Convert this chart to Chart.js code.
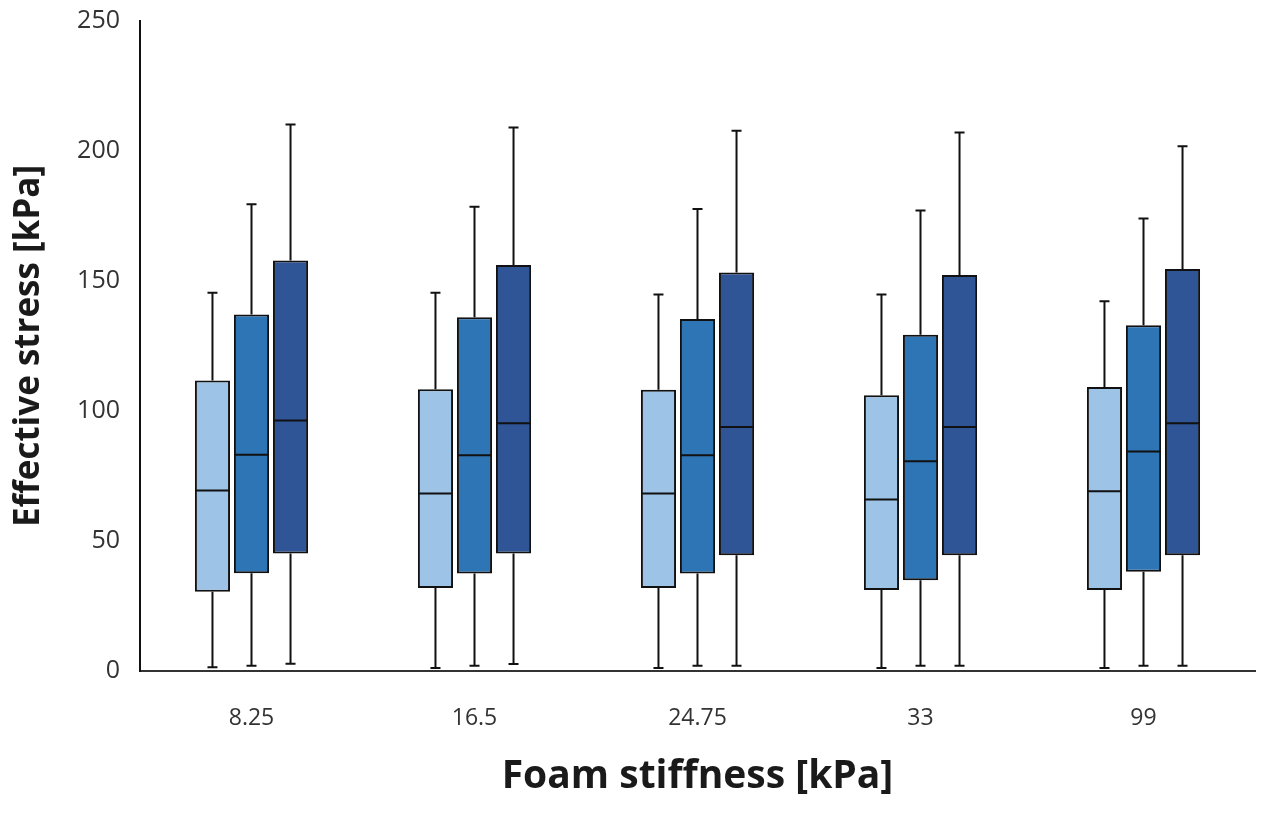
<!DOCTYPE html>
<html>
<head>
<meta charset="utf-8">
<script src="https://cdn.jsdelivr.net/npm/chart.js@4.4.0/dist/chart.umd.min.js"></script>
<style>
  html, body { margin: 0; padding: 0; background: #fff; }
</style>
</head>
<body>
<canvas id="myChart" width="1274" height="815"></canvas>
<script>
// categories (foam stiffness, kPa)
const categories = ['8.25', '16.5', '24.75', '33', '99'];
const seriesNames = ['Series 1', 'Series 2', 'Series 3'];
const seriesColors = ['#9DC3E6', '#2E75B6', '#2F5597'];

// box plot values, one row per series, one column per category
const minVals = [
    [1.4, 1.2, 1.2, 1.2, 1.2],
    [2.0, 2.0, 2.0, 2.0, 2.0],
    [2.8, 2.7, 2.0, 2.0, 2.0]
];
const q1Vals = [
    [30.5, 31.9, 31.9, 31.2, 31.2],
    [37.6, 37.5, 37.5, 34.9, 38.2],
    [45.2, 45.2, 44.5, 44.5, 44.5]
];
const medianVals = [
    [69.4, 68.3, 68.3, 66.0, 69.1],
    [83.2, 83.0, 83.0, 80.7, 84.4],
    [96.3, 95.3, 93.8, 93.8, 95.3]
];
const q3Vals = [
    [111.7, 108.4, 108.2, 106.1, 109.2],
    [137.1, 136.1, 135.4, 129.3, 133.0],
    [157.9, 156.2, 153.3, 152.3, 154.6]
];
const maxVals = [
    [145.5, 145.5, 144.8, 144.8, 142.2],
    [179.5, 178.6, 177.7, 177.1, 174.0],
    [210.2, 209.0, 207.8, 207.1, 201.8]
];

const yTicks = [0, 50, 100, 150, 200, 250];

// whiskers + medians drawn on top of the floating bars
const boxWhiskers = {
    id: 'boxWhiskers',
    afterDatasetsDraw(chart) {
        const ctx = chart.ctx;
        const y = chart.scales.y;
        ctx.save();
        ctx.strokeStyle = '#111';
        ctx.lineWidth = 2;
        chart.data.datasets.forEach((ds, i) => {
            const meta = chart.getDatasetMeta(i);
            meta.data.forEach((bar, j) => {
                const x = bar.x;
                const half = bar.width / 2;
                const pMin = y.getPixelForValue(minVals[i][j]);
                const pQ1 = y.getPixelForValue(q1Vals[i][j]);
                const pMed = y.getPixelForValue(medianVals[i][j]);
                const pQ3 = y.getPixelForValue(q3Vals[i][j]);
                const pMax = y.getPixelForValue(maxVals[i][j]);
                const cap = 5;
                ctx.beginPath();
                ctx.moveTo(x, pQ3); ctx.lineTo(x, pMax);
                ctx.moveTo(x - cap, pMax); ctx.lineTo(x + cap, pMax);
                ctx.moveTo(x, pQ1); ctx.lineTo(x, pMin);
                ctx.moveTo(x - cap, pMin); ctx.lineTo(x + cap, pMin);
                ctx.moveTo(x - half + 1, pMed); ctx.lineTo(x + half - 1, pMed);
                ctx.stroke();
            });
        });
        ctx.restore();
    }
};

const datasets = seriesNames.map((name, i) => ({
    label: name,
    data: categories.map((c, j) => [q1Vals[i][j], q3Vals[i][j]]),
    backgroundColor: seriesColors[i],
    borderColor: '#111',
    borderWidth: 2,
    borderSkipped: false,
    barPercentage: 0.9,
    categoryPercentage: 0.525
}));

const ctx = document.getElementById('myChart').getContext('2d');
const myChart = new Chart(ctx, {
    type: 'bar',
    data: {
        labels: categories,
        datasets: datasets
    },
    options: {
        responsive: false,
        animation: false,
        layout: {
            padding: { left: 0, right: 19, top: 21, bottom: 0 }
        },
        plugins: {
            legend: { display: false },
            tooltip: { enabled: false }
        },
        scales: {
            x: {
                grid: { display: false },
                border: { display: true, color: '#333', width: 2 },
                ticks: {
                    color: '#333',
                    padding: 26,
                    font: { family: 'Open Sans', size: 23 }
                },
                title: {
                    display: true,
                    text: 'Foam stiffness [kPa]',
                    color: '#1a1a1a',
                    font: { family: 'Open Sans', size: 39, weight: 'bold' },
                    padding: { top: 10, bottom: 15 }
                },
                afterFit(scale) { scale.height = 144; }
            },
            y: {
                min: 0,
                max: 250,
                afterBuildTicks(scale) {
                    scale.ticks = yTicks.map(v => ({ value: v }));
                },
                grid: { display: false },
                border: { display: true, color: '#111', width: 2 },
                ticks: {
                    color: '#333',
                    padding: 12,
                    font: { family: 'Open Sans', size: 25 }
                },
                title: {
                    display: true,
                    text: 'Effective stress [kPa]',
                    color: '#1a1a1a',
                    font: { family: 'Open Sans', size: 35, weight: 'bold' },
                    padding: { top: 8 }
                },
                afterFit(scale) {
                    scale.width = 140;
                    scale.paddingTop = 0;
                    scale.paddingBottom = 0;
                }
            }
        }
    },
    plugins: [boxWhiskers]
});
</script>
</body>
</html>
